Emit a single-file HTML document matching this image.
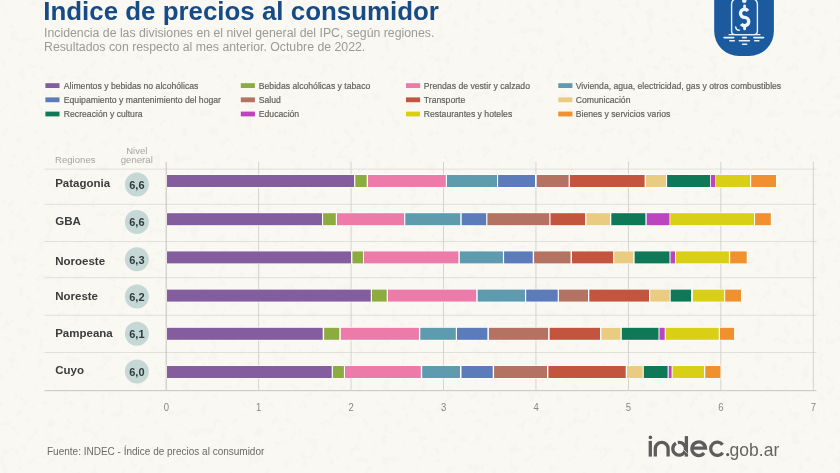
<!DOCTYPE html><html><head><meta charset="utf-8"><title>Indice de precios al consumidor</title><style>
html,body{margin:0;padding:0;background:#faf8f2;}
body{width:840px;height:473px;overflow:hidden;position:relative;font-family:"Liberation Sans",sans-serif;}
svg{position:absolute;left:0;top:0;display:block;will-change:transform;}
text{font-family:"Liberation Sans",sans-serif;}
</style></head><body>
<svg width="840" height="473" viewBox="0 0 840 473">
<rect x="0" y="0" width="840" height="473" fill="#faf8f2"/>
<defs><filter id="pn" x="0" y="0" width="100%" height="100%"><feTurbulence type="fractalNoise" baseFrequency="0.11" numOctaves="3" seed="7" result="t"/><feColorMatrix in="t" type="matrix" values="0 0 0 0 0.55  0 0 0 0 0.54  0 0 0 0 0.5  0 0 0 -45 16.6"/></filter></defs>
<rect x="0" y="0" width="840" height="473" filter="url(#pn)" opacity="0.045"/>
<text x="0" y="0" font-size="26" font-weight="bold" fill="#174b85" transform="translate(43.3 19.6) scale(0.996 1)">Indice de precios al consumidor</text>
<text x="44" y="36.9" font-size="12.3" fill="#9a9a98">Incidencia de las divisiones en el nivel general del IPC, según regiones.</text>
<text x="44" y="50.7" font-size="12.3" fill="#9a9a98">Resultados con respecto al mes anterior. Octubre de 2022.</text>
<rect x="45.4" y="83.2" width="14.1" height="4.8" fill="#835d9e"/>
<text x="0" y="0" font-size="9.30" fill="#5f5f5d" stroke="#5f5f5d" stroke-width="0.18" transform="translate(63.8 88.5) scale(0.930 1.05)">Alimentos y bebidas no alcohólicas</text>
<rect x="45.4" y="97.4" width="14.1" height="4.8" fill="#5b7bba"/>
<text x="0" y="0" font-size="9.30" fill="#5f5f5d" stroke="#5f5f5d" stroke-width="0.18" transform="translate(63.8 102.8) scale(0.930 1.05)">Equipamiento y mantenimiento del hogar</text>
<rect x="45.4" y="111.6" width="14.1" height="4.8" fill="#0f7857"/>
<text x="0" y="0" font-size="9.30" fill="#5f5f5d" stroke="#5f5f5d" stroke-width="0.18" transform="translate(63.8 116.9) scale(0.930 1.05)">Recreación y cultura</text>
<rect x="240.8" y="83.2" width="14.1" height="4.8" fill="#8dac40"/>
<text x="0" y="0" font-size="9.30" fill="#5f5f5d" stroke="#5f5f5d" stroke-width="0.18" transform="translate(258.8 88.5) scale(0.930 1.05)">Bebidas alcohólicas y tabaco</text>
<rect x="240.8" y="97.4" width="14.1" height="4.8" fill="#b37262"/>
<text x="0" y="0" font-size="9.30" fill="#5f5f5d" stroke="#5f5f5d" stroke-width="0.18" transform="translate(258.8 102.8) scale(0.930 1.05)">Salud</text>
<rect x="240.8" y="111.6" width="14.1" height="4.8" fill="#bc44bf"/>
<text x="0" y="0" font-size="9.30" fill="#5f5f5d" stroke="#5f5f5d" stroke-width="0.18" transform="translate(258.8 116.9) scale(0.930 1.05)">Educación</text>
<rect x="406.0" y="83.2" width="14.1" height="4.8" fill="#ec7baa"/>
<text x="0" y="0" font-size="9.30" fill="#5f5f5d" stroke="#5f5f5d" stroke-width="0.18" transform="translate(423.8 88.5) scale(0.930 1.05)">Prendas de vestir y calzado</text>
<rect x="406.0" y="97.4" width="14.1" height="4.8" fill="#c3553f"/>
<text x="0" y="0" font-size="9.30" fill="#5f5f5d" stroke="#5f5f5d" stroke-width="0.18" transform="translate(423.8 102.8) scale(0.930 1.05)">Transporte</text>
<rect x="406.0" y="111.6" width="14.1" height="4.8" fill="#d9cf17"/>
<text x="0" y="0" font-size="9.30" fill="#5f5f5d" stroke="#5f5f5d" stroke-width="0.18" transform="translate(423.8 116.9) scale(0.930 1.05)">Restaurantes y hoteles</text>
<rect x="558.3" y="83.2" width="14.1" height="4.8" fill="#5e9bae"/>
<text x="0" y="0" font-size="9.30" fill="#5f5f5d" stroke="#5f5f5d" stroke-width="0.18" transform="translate(575.7 88.5) scale(0.930 1.05)">Vivienda, agua, electricidad, gas y otros combustibles</text>
<rect x="558.3" y="97.4" width="14.1" height="4.8" fill="#e9cb82"/>
<text x="0" y="0" font-size="9.30" fill="#5f5f5d" stroke="#5f5f5d" stroke-width="0.18" transform="translate(575.7 102.8) scale(0.930 1.05)">Comunicación</text>
<rect x="558.3" y="111.6" width="14.1" height="4.8" fill="#f0902f"/>
<text x="0" y="0" font-size="9.30" fill="#5f5f5d" stroke="#5f5f5d" stroke-width="0.18" transform="translate(575.7 116.9) scale(0.930 1.05)">Bienes y servicios varios</text>
<text x="55" y="163.2" font-size="9.6" fill="#a5a5a3">Regiones</text>
<text x="136.8" y="154" font-size="9.5" fill="#a5a5a3" text-anchor="middle">Nivel</text>
<text x="136.8" y="163.2" font-size="9.6" fill="#a5a5a3" text-anchor="middle">general</text>
<rect x="44.5" y="168.70" width="772" height="0.8" fill="#dcdad4"/>
<rect x="44.5" y="203.90" width="772" height="0.8" fill="#dcdad4"/>
<rect x="44.5" y="241.00" width="772" height="0.8" fill="#dcdad4"/>
<rect x="44.5" y="277.30" width="772" height="0.8" fill="#dcdad4"/>
<rect x="44.5" y="314.80" width="772" height="0.8" fill="#dcdad4"/>
<rect x="44.5" y="352.10" width="772" height="0.8" fill="#dcdad4"/>
<rect x="258.19" y="161.8" width="0.9" height="228.80" fill="#d2d0cb"/>
<rect x="350.63" y="161.8" width="0.9" height="228.80" fill="#d2d0cb"/>
<rect x="443.07" y="161.8" width="0.9" height="228.80" fill="#d2d0cb"/>
<rect x="535.51" y="161.8" width="0.9" height="228.80" fill="#d2d0cb"/>
<rect x="627.95" y="161.8" width="0.9" height="228.80" fill="#d2d0cb"/>
<rect x="720.39" y="161.8" width="0.9" height="228.80" fill="#d2d0cb"/>
<rect x="812.83" y="161.8" width="0.9" height="228.80" fill="#d2d0cb"/>
<rect x="165.70" y="161.8" width="1" height="228.80" fill="#c4c2bd"/>
<rect x="44.5" y="390.00" width="772" height="1.2" fill="#cfcdc7"/>
<text x="0" y="0" font-size="10.6" fill="#878785" text-anchor="middle" transform="translate(166.30 411.1) scale(0.9 1)">0</text>
<text x="0" y="0" font-size="10.6" fill="#878785" text-anchor="middle" transform="translate(258.74 411.1) scale(0.9 1)">1</text>
<text x="0" y="0" font-size="10.6" fill="#878785" text-anchor="middle" transform="translate(351.18 411.1) scale(0.9 1)">2</text>
<text x="0" y="0" font-size="10.6" fill="#878785" text-anchor="middle" transform="translate(443.62 411.1) scale(0.9 1)">3</text>
<text x="0" y="0" font-size="10.6" fill="#878785" text-anchor="middle" transform="translate(536.06 411.1) scale(0.9 1)">4</text>
<text x="0" y="0" font-size="10.6" fill="#878785" text-anchor="middle" transform="translate(628.50 411.1) scale(0.9 1)">5</text>
<text x="0" y="0" font-size="10.6" fill="#878785" text-anchor="middle" transform="translate(720.94 411.1) scale(0.9 1)">6</text>
<text x="0" y="0" font-size="10.6" fill="#878785" text-anchor="middle" transform="translate(813.38 411.1) scale(0.9 1)">7</text>
<rect x="166.6" y="174.40" width="610.20" height="13.20" fill="#ffffff"/>
<rect x="167.00" y="175.00" width="187.10" height="12.00" fill="#835d9e"/>
<rect x="355.30" y="175.00" width="11.40" height="12.00" fill="#8dac40"/>
<rect x="368.00" y="175.00" width="77.80" height="12.00" fill="#ec7baa"/>
<rect x="447.00" y="175.00" width="50.00" height="12.00" fill="#5e9bae"/>
<rect x="498.10" y="175.00" width="36.90" height="12.00" fill="#5b7bba"/>
<rect x="536.70" y="175.00" width="31.90" height="12.00" fill="#b37262"/>
<rect x="569.90" y="175.00" width="74.70" height="12.00" fill="#c3553f"/>
<rect x="645.90" y="175.00" width="20.10" height="12.00" fill="#e9cb82"/>
<rect x="667.10" y="175.00" width="42.90" height="12.00" fill="#0f7857"/>
<rect x="710.80" y="175.00" width="4.50" height="12.00" fill="#bc44bf"/>
<rect x="716.00" y="175.00" width="34.10" height="12.00" fill="#d9cf17"/>
<rect x="751.20" y="175.00" width="24.80" height="12.00" fill="#f0902f"/>
<rect x="166.6" y="212.60" width="605.00" height="13.20" fill="#ffffff"/>
<rect x="167.00" y="213.20" width="155.00" height="12.00" fill="#835d9e"/>
<rect x="323.10" y="213.20" width="12.70" height="12.00" fill="#8dac40"/>
<rect x="337.00" y="213.20" width="67.10" height="12.00" fill="#ec7baa"/>
<rect x="405.30" y="213.20" width="55.00" height="12.00" fill="#5e9bae"/>
<rect x="461.70" y="213.20" width="24.50" height="12.00" fill="#5b7bba"/>
<rect x="487.40" y="213.20" width="61.90" height="12.00" fill="#b37262"/>
<rect x="550.50" y="213.20" width="34.60" height="12.00" fill="#c3553f"/>
<rect x="586.40" y="213.20" width="23.60" height="12.00" fill="#e9cb82"/>
<rect x="611.30" y="213.20" width="34.10" height="12.00" fill="#0f7857"/>
<rect x="646.70" y="213.20" width="22.80" height="12.00" fill="#bc44bf"/>
<rect x="670.20" y="213.20" width="83.80" height="12.00" fill="#d9cf17"/>
<rect x="755.10" y="213.20" width="15.70" height="12.00" fill="#f0902f"/>
<rect x="166.6" y="250.80" width="580.90" height="13.20" fill="#ffffff"/>
<rect x="167.00" y="251.40" width="184.00" height="12.00" fill="#835d9e"/>
<rect x="352.40" y="251.40" width="10.70" height="12.00" fill="#8dac40"/>
<rect x="364.00" y="251.40" width="94.40" height="12.00" fill="#ec7baa"/>
<rect x="459.80" y="251.40" width="43.10" height="12.00" fill="#5e9bae"/>
<rect x="504.10" y="251.40" width="28.60" height="12.00" fill="#5b7bba"/>
<rect x="534.10" y="251.40" width="36.40" height="12.00" fill="#b37262"/>
<rect x="572.00" y="251.40" width="41.10" height="12.00" fill="#c3553f"/>
<rect x="614.20" y="251.40" width="19.10" height="12.00" fill="#e9cb82"/>
<rect x="634.60" y="251.40" width="34.90" height="12.00" fill="#0f7857"/>
<rect x="670.50" y="251.40" width="4.50" height="12.00" fill="#bc44bf"/>
<rect x="676.00" y="251.40" width="52.90" height="12.00" fill="#d9cf17"/>
<rect x="730.20" y="251.40" width="16.50" height="12.00" fill="#f0902f"/>
<rect x="166.6" y="289.00" width="575.20" height="13.20" fill="#ffffff"/>
<rect x="167.00" y="289.60" width="203.80" height="12.00" fill="#835d9e"/>
<rect x="372.00" y="289.60" width="14.70" height="12.00" fill="#8dac40"/>
<rect x="387.90" y="289.60" width="88.30" height="12.00" fill="#ec7baa"/>
<rect x="477.70" y="289.60" width="47.30" height="12.00" fill="#5e9bae"/>
<rect x="526.20" y="289.60" width="31.50" height="12.00" fill="#5b7bba"/>
<rect x="558.90" y="289.60" width="29.10" height="12.00" fill="#b37262"/>
<rect x="589.30" y="289.60" width="59.70" height="12.00" fill="#c3553f"/>
<rect x="650.30" y="289.60" width="19.40" height="12.00" fill="#e9cb82"/>
<rect x="670.70" y="289.60" width="20.30" height="12.00" fill="#0f7857"/>
<rect x="692.90" y="289.60" width="31.30" height="12.00" fill="#d9cf17"/>
<rect x="725.20" y="289.60" width="15.80" height="12.00" fill="#f0902f"/>
<rect x="166.6" y="327.20" width="568.30" height="13.20" fill="#ffffff"/>
<rect x="167.00" y="327.80" width="155.70" height="12.00" fill="#835d9e"/>
<rect x="324.10" y="327.80" width="15.20" height="12.00" fill="#8dac40"/>
<rect x="340.80" y="327.80" width="78.10" height="12.00" fill="#ec7baa"/>
<rect x="420.30" y="327.80" width="35.50" height="12.00" fill="#5e9bae"/>
<rect x="457.00" y="327.80" width="30.40" height="12.00" fill="#5b7bba"/>
<rect x="488.90" y="327.80" width="59.20" height="12.00" fill="#b37262"/>
<rect x="549.60" y="327.80" width="50.40" height="12.00" fill="#c3553f"/>
<rect x="601.40" y="327.80" width="19.10" height="12.00" fill="#e9cb82"/>
<rect x="621.80" y="327.80" width="36.70" height="12.00" fill="#0f7857"/>
<rect x="659.50" y="327.80" width="5.20" height="12.00" fill="#bc44bf"/>
<rect x="665.80" y="327.80" width="52.90" height="12.00" fill="#d9cf17"/>
<rect x="720.00" y="327.80" width="14.10" height="12.00" fill="#f0902f"/>
<rect x="166.6" y="365.40" width="554.70" height="13.20" fill="#ffffff"/>
<rect x="167.00" y="366.00" width="164.70" height="12.00" fill="#835d9e"/>
<rect x="332.90" y="366.00" width="11.00" height="12.00" fill="#8dac40"/>
<rect x="345.00" y="366.00" width="75.80" height="12.00" fill="#ec7baa"/>
<rect x="422.20" y="366.00" width="37.80" height="12.00" fill="#5e9bae"/>
<rect x="461.50" y="366.00" width="31.20" height="12.00" fill="#5b7bba"/>
<rect x="494.10" y="366.00" width="52.90" height="12.00" fill="#b37262"/>
<rect x="548.40" y="366.00" width="77.30" height="12.00" fill="#c3553f"/>
<rect x="627.00" y="366.00" width="15.70" height="12.00" fill="#e9cb82"/>
<rect x="643.80" y="366.00" width="23.80" height="12.00" fill="#0f7857"/>
<rect x="668.70" y="366.00" width="2.90" height="12.00" fill="#bc44bf"/>
<rect x="672.60" y="366.00" width="31.40" height="12.00" fill="#d9cf17"/>
<rect x="705.30" y="366.00" width="15.20" height="12.00" fill="#f0902f"/>
<text x="55.2" y="187.10" font-size="11.5" font-weight="bold" fill="#3b3d3d">Patagonia</text>
<circle cx="136.9" cy="184.60" r="12" fill="#c5d8d6"/>
<text x="136.9" y="188.90" font-size="11" font-weight="bold" fill="#2e3a3c" text-anchor="middle">6,6</text>
<text x="55.2" y="225.00" font-size="11.5" font-weight="bold" fill="#3b3d3d">GBA</text>
<circle cx="136.9" cy="222.00" r="12" fill="#c5d8d6"/>
<text x="136.9" y="226.30" font-size="11" font-weight="bold" fill="#2e3a3c" text-anchor="middle">6,6</text>
<text x="55.2" y="264.70" font-size="11.5" font-weight="bold" fill="#3b3d3d">Noroeste</text>
<circle cx="136.9" cy="259.20" r="12" fill="#c5d8d6"/>
<text x="136.9" y="263.50" font-size="11" font-weight="bold" fill="#2e3a3c" text-anchor="middle">6,3</text>
<text x="55.2" y="299.60" font-size="11.5" font-weight="bold" fill="#3b3d3d">Noreste</text>
<circle cx="136.9" cy="296.50" r="12" fill="#c5d8d6"/>
<text x="136.9" y="300.80" font-size="11" font-weight="bold" fill="#2e3a3c" text-anchor="middle">6,2</text>
<text x="55.2" y="336.80" font-size="11.5" font-weight="bold" fill="#3b3d3d">Pampeana</text>
<circle cx="136.9" cy="333.70" r="12" fill="#c5d8d6"/>
<text x="136.9" y="338.00" font-size="11" font-weight="bold" fill="#2e3a3c" text-anchor="middle">6,1</text>
<text x="55.2" y="374.20" font-size="11.5" font-weight="bold" fill="#3b3d3d">Cuyo</text>
<circle cx="136.9" cy="371.50" r="12" fill="#c5d8d6"/>
<text x="136.9" y="375.80" font-size="11" font-weight="bold" fill="#2e3a3c" text-anchor="middle">6,0</text>
<text x="47" y="454.5" font-size="10" fill="#6a6a68">Fuente: INDEC - Índice de precios al consumidor</text>
<path d="M714.2 -2 H773.9 V31.2 A24.8 24.8 0 0 1 749.1 56 H739 A24.8 24.8 0 0 1 714.2 31.2 Z" fill="#1c5a9f"/>
<g fill="none" stroke="#e8f1fb" stroke-width="1.4" stroke-linecap="round">
<path d="M735.5 -1.2 Q731.6 0.2 731.6 4 V31 Q731.6 34.6 735.2 34.6 H753.8 Q757.4 34.6 757.4 31 V4 Q757.4 0.2 753.5 -1.2"/>
<path d="M729 34.6 H760"/>
<path d="M724.1 37.6 H733.7 M742.5 37.6 H746.3 M753.9 37.6 H763.6 M729.9 40.8 H734.3 M739.4 40.8 H749.4 M754.7 40.8 H758.9 M742.6 44.2 H746.6" stroke-width="1.6"/>
<path d="M735.6 26.9 A3.9 3.9 0 0 0 739.3 30.3"/>
</g>
<circle cx="744.3" cy="0.8" r="2.3" fill="#e8f1fb"/>
<g fill="none" stroke="#f0f6fc" stroke-width="3.4" stroke-linecap="round">
<path d="M747.96 10.95 A4.1 4.1 0 0 0 744.6 9.2 A4.1 4.1 0 0 0 740.5 13.3 A4.1 4.1 0 0 0 744.6 17.4 A4.15 4.15 0 0 1 748.75 21.55 A4.15 4.15 0 0 1 744.6 25.7 A4.15 4.15 0 0 1 741.2 23.93" stroke-linecap="butt"/>
<path d="M744.6 5.9 V7.3 M744.6 27.5 V28.9" stroke-width="2.8"/>
</g>
<g fill="none" stroke="#5d5d5b" stroke-width="3.3" stroke-linecap="butt">
<path d="M650.3 440.9 V456.6"/>
<path d="M655.3 456.6 V448.8 A6.4 6.4 0 0 1 668.1 448.8 V456.6"/>
<path d="M686.4 436.1 V456.6"/>
<path d="M677.83 442.54 A6.35 6.35 0 1 1 675.98 443.25"/>
<path d="M691.2 448.2 H705.5 A6.8 6.8 0 1 0 704.06 452.94"/>
<path d="M722.59 444.65 A6.65 6.65 0 1 0 722.73 452.66"/>
</g>
<path d="M683.6 449.6 L687.6 453.6" stroke="#faf8f2" stroke-width="0.7"/>
<circle cx="650.4" cy="437.4" r="1.8" fill="#5d5d5b"/>
<circle cx="727.7" cy="454.6" r="1.55" fill="#5d5d5b"/>
<text x="729.6" y="455.5" font-size="17.5" fill="#646462">gob.ar</text>
</svg></body></html>
